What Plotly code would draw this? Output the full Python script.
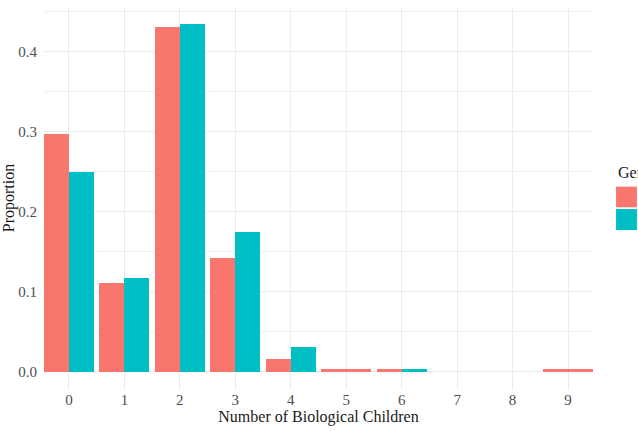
import plotly.graph_objects as go

# ---- data ----
children = [0, 1, 2, 3, 4, 5, 6, 7, 8, 9]
tick_labels = ["0", "1", "2", "3", "4", "5", "6", "7", "8", "9"]
female = [0.297, 0.111, 0.431, 0.1425, 0.016, 0.0035, 0.0035, None, None, 0.0035]
male = [0.249, 0.117, 0.434, 0.174, 0.031, None, 0.0035, None, None, None]
groups = ["Female", "Male"]
colors = ["#F8766D", "#00BFC4"]

# ggplot-like position_dodge: bars share 0.9 width; a lone bar takes the full width
DODGE = 0.9
series = [female, male]
widths = [[], []]
offsets = [[], []]
for i in range(len(children)):
    present = [k for k in range(2) if series[k][i] is not None]
    n = max(len(present), 1)
    w = DODGE / n
    for k in range(2):
        if series[k][i] is None:
            widths[k].append(w)
            offsets[k].append(-DODGE / 2)
        else:
            pos = present.index(k)
            widths[k].append(w)
            offsets[k].append(-DODGE / 2 + pos * w)

fig = go.Figure()
for k in range(2):
    fig.add_trace(go.Bar(
        x=children, y=series[k], name=groups[k],
        width=widths[k], offset=offsets[k],
        marker=dict(color=colors[k], line=dict(width=0)),
        showlegend=False,
    ))

ymax = max(v for s in series for v in s if v is not None)
pad = ymax * 0.05

FONT = "Liberation Serif, Times New Roman, serif"
fig.update_layout(
    width=638, height=431,
    margin=dict(l=44, r=44.5, t=7, b=42, autoexpand=False),
    plot_bgcolor="white", paper_bgcolor="white",
    barmode="overlay", bargap=0,
    font=dict(family=FONT, size=15, color="#4D4D4D"),
    xaxis=dict(
        range=[-0.45, 9.45], tickvals=children, ticktext=tick_labels,
        showgrid=True, gridcolor="#EBEBEB", gridwidth=1.2,
        zeroline=False, showline=False,
        ticks="", ticklen=0,
        tickfont=dict(family=FONT, size=15, color="#4D4D4D"),
        title=dict(text="Number of Biological Children", standoff=1,
                   font=dict(family=FONT, size=16, color="#1A1A1A")),
    ),
    yaxis=dict(
        range=[-pad, ymax + pad], dtick=0.1, tick0=0, tickformat=".1f",
        showgrid=True, gridcolor="#EBEBEB", gridwidth=1.2,
        minor=dict(dtick=0.05, tick0=0, showgrid=True, gridcolor="#F0F0F0", gridwidth=0.8),
        zeroline=False, showline=False,
        ticks="outside", ticklen=3, tickcolor="rgba(0,0,0,0)",
        tickfont=dict(family=FONT, size=15, color="#4D4D4D"),
        title=dict(text="Proportion", standoff=1,
                   font=dict(family=FONT, size=16, color="#1A1A1A")),
    ),
)

# legend (ggplot-style, partly cut off at the right edge as in the reference)
lx0, lx1 = 1.042, 1.080
fig.add_annotation(x=lx0, y=0.568, xref="paper", yref="paper", text="Gender",
                   showarrow=False, xanchor="left", yanchor="middle",
                   font=dict(family=FONT, size=16, color="#1A1A1A"))
key_y = [(0.5296, 0.4757), (0.4712, 0.4162)]
for k in range(2):
    y1, y0 = key_y[k]
    fig.add_shape(type="rect", xref="paper", yref="paper", x0=lx0, x1=lx1, y0=y0, y1=y1,
                  fillcolor=colors[k], line=dict(width=0))
    fig.add_annotation(x=lx1 + 0.01, y=(y0 + y1) / 2, xref="paper", yref="paper",
                       text=groups[k], showarrow=False, xanchor="left", yanchor="middle",
                       font=dict(family=FONT, size=15, color="#1A1A1A"))

fig.write_html("out.html")
